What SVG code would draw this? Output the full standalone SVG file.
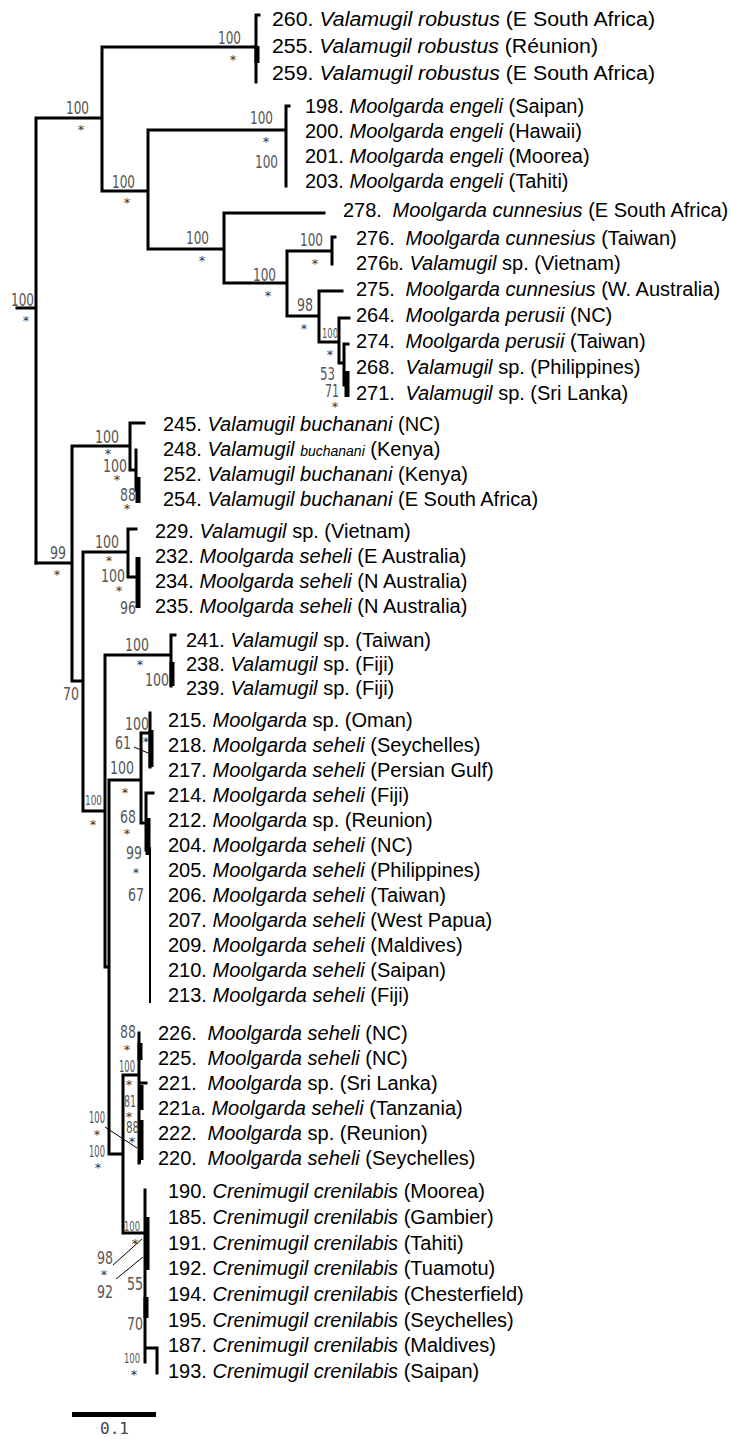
<svg xmlns="http://www.w3.org/2000/svg" width="731" height="1439" viewBox="0 0 731 1439">
<style>
.t{font-family:"Liberation Sans",Arial,sans-serif;font-size:20px;fill:#000}
.i{font-style:italic}
.s{font-size:16px}
.xs{font-size:14px}
.b{font-family:"DejaVu Sans",sans-serif;font-size:17px;fill:#555}
.a{font-family:"DejaVu Sans",sans-serif;font-size:13px;fill:#333;text-anchor:middle}
.br{fill:none;stroke:#000;stroke-width:3;stroke-linecap:square}
.tk{fill:none;stroke:#000;stroke-width:5}
.th{fill:none;stroke:#000;stroke-width:2}
.ld{stroke:#000;stroke-width:1}
.sc{font-family:"DejaVu Sans Mono",monospace;font-size:16px;fill:#444}
</style>
<rect width="731" height="1439" fill="#fff"/>
<g id="connectors">
<path class="br" d="M17,308H36M36,118V563M36,118H102M102,47V191M102,47H256M256,15V82M256,15H259M102,191H148M148,130V249M148,130H286M286,106V186M286,106H289M148,249H224M224,213V283M224,213H324M224,283H287M287,251V316M287,251H332M332,237V264M332,237H335M287,316H319M319,291V342M319,291H342M319,342H338M339,318V363M339,318H349M339,363H344M344,344V385M344,344H348M344,385H347"/>
<path class="tk" d="M257,46V63M347,371V397"/>
<path class="br" d="M36,563H72M72,446V681M72,681H83M72,446H130M130,423V470M130,423H144M130,470H136M136,450V490M83,552V811M83,552H128M128,529V577M128,529H136M128,577H136M105,811H83M105,655V967M105,655H171M171,635V686M171,635H175M105,967H109M109,780V1154M109,780H141M141,733V823M141,733H150M150,713V767M141,823H146M146,793V850M146,793H153M109,1154H123M123,1075V1233M123,1075H139M139,1033V1163M139,1083H146M123,1233H145M145,1190V1362M145,1348H157M157,1348V1373"/>
<path class="tk" d="M138,477V503M138,557V608M172,662V686M151,748H153M151,730V767M148,818V855M140,1043V1060M141,1085V1110M141,1120V1160M147,1217V1270M146,1297V1318"/>
<path class="th" d="M150,847V1003M140,1130V1163"/>
<path class="ld" d="M134,747L148,753M105,1127L137,1148M113,1265L142,1239M116,1279L143,1257"/>
<path d="M72,1414.5H156" stroke="#000" stroke-width="5"/>
</g>
<g id="support">
<text class="b" x="11" y="306" textLength="23" lengthAdjust="spacingAndGlyphs">100</text><text class="a" x="26" y="325">*</text>
<text class="b" x="66" y="114" textLength="23" lengthAdjust="spacingAndGlyphs">100</text><text class="a" x="81" y="134">*</text>
<text class="b" x="218" y="44" textLength="23" lengthAdjust="spacingAndGlyphs">100</text><text class="a" x="233" y="64">*</text>
<text class="b" x="250" y="124" textLength="23" lengthAdjust="spacingAndGlyphs">100</text><text class="a" x="266" y="146">*</text>
<text class="b" x="255" y="168" textLength="23" lengthAdjust="spacingAndGlyphs">100</text>
<text class="b" x="112" y="188" textLength="23" lengthAdjust="spacingAndGlyphs">100</text><text class="a" x="127" y="207">*</text>
<text class="b" x="186" y="244" textLength="23" lengthAdjust="spacingAndGlyphs">100</text><text class="a" x="202" y="265">*</text>
<text class="b" x="300" y="246" textLength="23" lengthAdjust="spacingAndGlyphs">100</text><text class="a" x="315" y="268">*</text>
<text class="b" x="253" y="281" textLength="23" lengthAdjust="spacingAndGlyphs">100</text><text class="a" x="268" y="300">*</text>
<text class="b" x="297" y="311" textLength="16" lengthAdjust="spacingAndGlyphs">98</text><text class="a" x="304" y="333">*</text>
<text class="b" x="322" y="338" textLength="16" lengthAdjust="spacingAndGlyphs" style="font-size:14px">100</text><text class="a" x="330" y="359">*</text>
<text class="b" x="320" y="380" textLength="15" lengthAdjust="spacingAndGlyphs">53</text>
<text class="b" x="325" y="397" textLength="14" lengthAdjust="spacingAndGlyphs">71</text><text class="a" x="335" y="411">*</text>
<text class="b" x="50" y="559" textLength="16" lengthAdjust="spacingAndGlyphs">99</text><text class="a" x="57" y="579">*</text>
<text class="b" x="95" y="443" textLength="24" lengthAdjust="spacingAndGlyphs">100</text><text class="a" x="108" y="458">*</text>
<text class="b" x="103" y="472" textLength="24" lengthAdjust="spacingAndGlyphs">100</text><text class="a" x="117" y="484">*</text>
<text class="b" x="120" y="501" textLength="16" lengthAdjust="spacingAndGlyphs">88</text><text class="a" x="127" y="513">*</text>
<text class="b" x="95" y="548" textLength="24" lengthAdjust="spacingAndGlyphs">100</text><text class="a" x="109" y="565">*</text>
<text class="b" x="101" y="582" textLength="24" lengthAdjust="spacingAndGlyphs">100</text><text class="a" x="119" y="595">*</text>
<text class="b" x="120" y="614" textLength="16" lengthAdjust="spacingAndGlyphs">96</text>
<text class="b" x="63" y="700" textLength="16" lengthAdjust="spacingAndGlyphs">70</text>
<text class="b" x="85" y="805" textLength="17" lengthAdjust="spacingAndGlyphs" style="font-size:14px">100</text><text class="a" x="93" y="829">*</text>
<text class="b" x="125" y="651" textLength="24" lengthAdjust="spacingAndGlyphs">100</text><text class="a" x="140" y="669">*</text>
<text class="b" x="145" y="686" textLength="24" lengthAdjust="spacingAndGlyphs">100</text>
<text class="b" x="125" y="730" textLength="24" lengthAdjust="spacingAndGlyphs">100</text><text class="a" x="146" y="746">*</text>
<text class="b" x="115" y="749" textLength="16" lengthAdjust="spacingAndGlyphs">61</text>
<text class="b" x="110" y="774" textLength="24" lengthAdjust="spacingAndGlyphs">100</text><text class="a" x="125" y="797">*</text>
<text class="b" x="120" y="823" textLength="16" lengthAdjust="spacingAndGlyphs">68</text><text class="a" x="127" y="838">*</text>
<text class="b" x="126" y="859" textLength="16" lengthAdjust="spacingAndGlyphs">99</text><text class="a" x="136" y="877">*</text>
<text class="b" x="128" y="901" textLength="16" lengthAdjust="spacingAndGlyphs">67</text>
<text class="b" x="120" y="1038" textLength="16" lengthAdjust="spacingAndGlyphs">88</text><text class="a" x="127" y="1054">*</text>
<text class="b" x="119" y="1072" textLength="16" lengthAdjust="spacingAndGlyphs" style="font-size:15px">100</text><text class="a" x="129" y="1089">*</text>
<text class="b" x="124" y="1107" textLength="12" lengthAdjust="spacingAndGlyphs" style="font-size:15px">81</text><text class="a" x="129" y="1121">*</text>
<text class="b" x="126" y="1133" textLength="13" lengthAdjust="spacingAndGlyphs" style="font-size:15px">88</text><text class="a" x="132" y="1146">*</text>
<text class="b" x="89" y="1123" textLength="16" lengthAdjust="spacingAndGlyphs" style="font-size:15px">100</text><text class="a" x="97" y="1139">*</text>
<text class="b" x="89" y="1157" textLength="16" lengthAdjust="spacingAndGlyphs" style="font-size:15px">100</text><text class="a" x="98" y="1172">*</text>
<text class="b" x="124" y="1231" textLength="16" lengthAdjust="spacingAndGlyphs" style="font-size:14px">100</text><text class="a" x="135" y="1248">*</text>
<text class="b" x="97" y="1264" textLength="16" lengthAdjust="spacingAndGlyphs">98</text><text class="a" x="104" y="1279">*</text>
<text class="b" x="97" y="1298" textLength="16" lengthAdjust="spacingAndGlyphs">92</text>
<text class="b" x="127" y="1290" textLength="16" lengthAdjust="spacingAndGlyphs">55</text>
<text class="b" x="127" y="1330" textLength="16" lengthAdjust="spacingAndGlyphs">70</text>
<text class="b" x="124" y="1363" textLength="16" lengthAdjust="spacingAndGlyphs" style="font-size:14px">100</text><text class="a" x="134" y="1379">*</text>
<text class="sc" x="100" y="1434">0.1</text>
</g>
<g id="labels" class="t">
<text x="272" y="26" textLength="383" lengthAdjust="spacingAndGlyphs">260. <tspan class="i">Valamugil robustus</tspan> (E South Africa)</text>
<text x="272" y="53" textLength="326" lengthAdjust="spacingAndGlyphs">255. <tspan class="i">Valamugil robustus</tspan> (Réunion)</text>
<text x="272" y="80" textLength="383" lengthAdjust="spacingAndGlyphs">259. <tspan class="i">Valamugil robustus</tspan> (E South Africa)</text>
<text x="305" y="113">198. <tspan class="i">Moolgarda engeli</tspan> (Saipan)</text>
<text x="305" y="138">200. <tspan class="i">Moolgarda engeli</tspan> (Hawaii)</text>
<text x="305" y="163">201. <tspan class="i">Moolgarda engeli</tspan> (Moorea)</text>
<text x="305" y="188">203. <tspan class="i">Moolgarda engeli</tspan> (Tahiti)</text>
<text x="343" y="217">278. <tspan class="i" dx="5">Moolgarda cunnesius</tspan> (E South Africa)</text>
<text x="356" y="245">276. <tspan class="i" dx="5">Moolgarda cunnesius</tspan> (Taiwan)</text>
<text x="356" y="270">276<tspan class="s">b</tspan>. <tspan class="i">Valamugil</tspan> sp. (Vietnam)</text>
<text x="356" y="296">275. <tspan class="i" dx="5">Moolgarda cunnesius</tspan> (W. Australia)</text>
<text x="356" y="322">264. <tspan class="i" dx="5">Moolgarda perusii</tspan> (NC)</text>
<text x="356" y="348">274. <tspan class="i" dx="5">Moolgarda perusii</tspan> (Taiwan)</text>
<text x="356" y="374">268. <tspan class="i" dx="5">Valamugil</tspan> sp. (Philippines)</text>
<text x="356" y="400">271. <tspan class="i" dx="5">Valamugil</tspan> sp. (Sri Lanka)</text>
<text x="163" y="431">245. <tspan class="i">Valamugil buchanani</tspan> (NC)</text>
<text x="163" y="456">248. <tspan class="i">Valamugil <tspan class="xs">buchanani</tspan></tspan> (Kenya)</text>
<text x="163" y="481">252. <tspan class="i">Valamugil buchanani</tspan> (Kenya)</text>
<text x="163" y="506">254. <tspan class="i">Valamugil buchanani</tspan> (E South Africa)</text>
<text x="155" y="538">229. <tspan class="i">Valamugil</tspan> sp. (Vietnam)</text>
<text x="155" y="563">232. <tspan class="i">Moolgarda seheli</tspan> (E Australia)</text>
<text x="155" y="588">234. <tspan class="i">Moolgarda seheli</tspan> (N Australia)</text>
<text x="155" y="613">235. <tspan class="i">Moolgarda seheli</tspan> (N Australia)</text>
<text x="186" y="647">241. <tspan class="i">Valamugil</tspan> sp. (Taiwan)</text>
<text x="186" y="671">238. <tspan class="i">Valamugil</tspan> sp. (Fiji)</text>
<text x="186" y="695">239. <tspan class="i">Valamugil</tspan> sp. (Fiji)</text>
<text x="168" y="727">215. <tspan class="i">Moolgarda</tspan> sp. (Oman)</text>
<text x="168" y="752">218. <tspan class="i">Moolgarda seheli</tspan> (Seychelles)</text>
<text x="168" y="777">217. <tspan class="i">Moolgarda seheli</tspan> (Persian Gulf)</text>
<text x="168" y="802">214. <tspan class="i">Moolgarda seheli</tspan> (Fiji)</text>
<text x="168" y="827">212. <tspan class="i">Moolgarda</tspan> sp. (Reunion)</text>
<text x="168" y="852">204. <tspan class="i">Moolgarda seheli</tspan> (NC)</text>
<text x="168" y="877">205. <tspan class="i">Moolgarda seheli</tspan> (Philippines)</text>
<text x="168" y="902">206. <tspan class="i">Moolgarda seheli</tspan> (Taiwan)</text>
<text x="168" y="927">207. <tspan class="i">Moolgarda seheli</tspan> (West Papua)</text>
<text x="168" y="952">209. <tspan class="i">Moolgarda seheli</tspan> (Maldives)</text>
<text x="168" y="977">210. <tspan class="i">Moolgarda seheli</tspan> (Saipan)</text>
<text x="168" y="1002">213. <tspan class="i">Moolgarda seheli</tspan> (Fiji)</text>
<text x="158" y="1040">226. <tspan class="i" dx="5">Moolgarda seheli</tspan> (NC)</text>
<text x="158" y="1065">225. <tspan class="i" dx="5">Moolgarda seheli</tspan> (NC)</text>
<text x="158" y="1090">221. <tspan class="i" dx="5">Moolgarda</tspan> sp. (Sri Lanka)</text>
<text x="158" y="1115">221<tspan class="s">a</tspan>. <tspan class="i">Moolgarda seheli</tspan> (Tanzania)</text>
<text x="158" y="1140">222. <tspan class="i" dx="5">Moolgarda</tspan> sp. (Reunion)</text>
<text x="158" y="1165">220. <tspan class="i" dx="5">Moolgarda seheli</tspan> (Seychelles)</text>
<text x="168" y="1198">190. <tspan class="i">Crenimugil crenilabis</tspan> (Moorea)</text>
<text x="168" y="1224">185. <tspan class="i">Crenimugil crenilabis</tspan> (Gambier)</text>
<text x="168" y="1250">191. <tspan class="i">Crenimugil crenilabis</tspan> (Tahiti)</text>
<text x="168" y="1275">192. <tspan class="i">Crenimugil crenilabis</tspan> (Tuamotu)</text>
<text x="168" y="1301">194. <tspan class="i">Crenimugil crenilabis</tspan> (Chesterfield)</text>
<text x="168" y="1327">195. <tspan class="i">Crenimugil crenilabis</tspan> (Seychelles)</text>
<text x="168" y="1352">187. <tspan class="i">Crenimugil crenilabis</tspan> (Maldives)</text>
<text x="168" y="1378">193. <tspan class="i">Crenimugil crenilabis</tspan> (Saipan)</text>
</g>
</svg>
